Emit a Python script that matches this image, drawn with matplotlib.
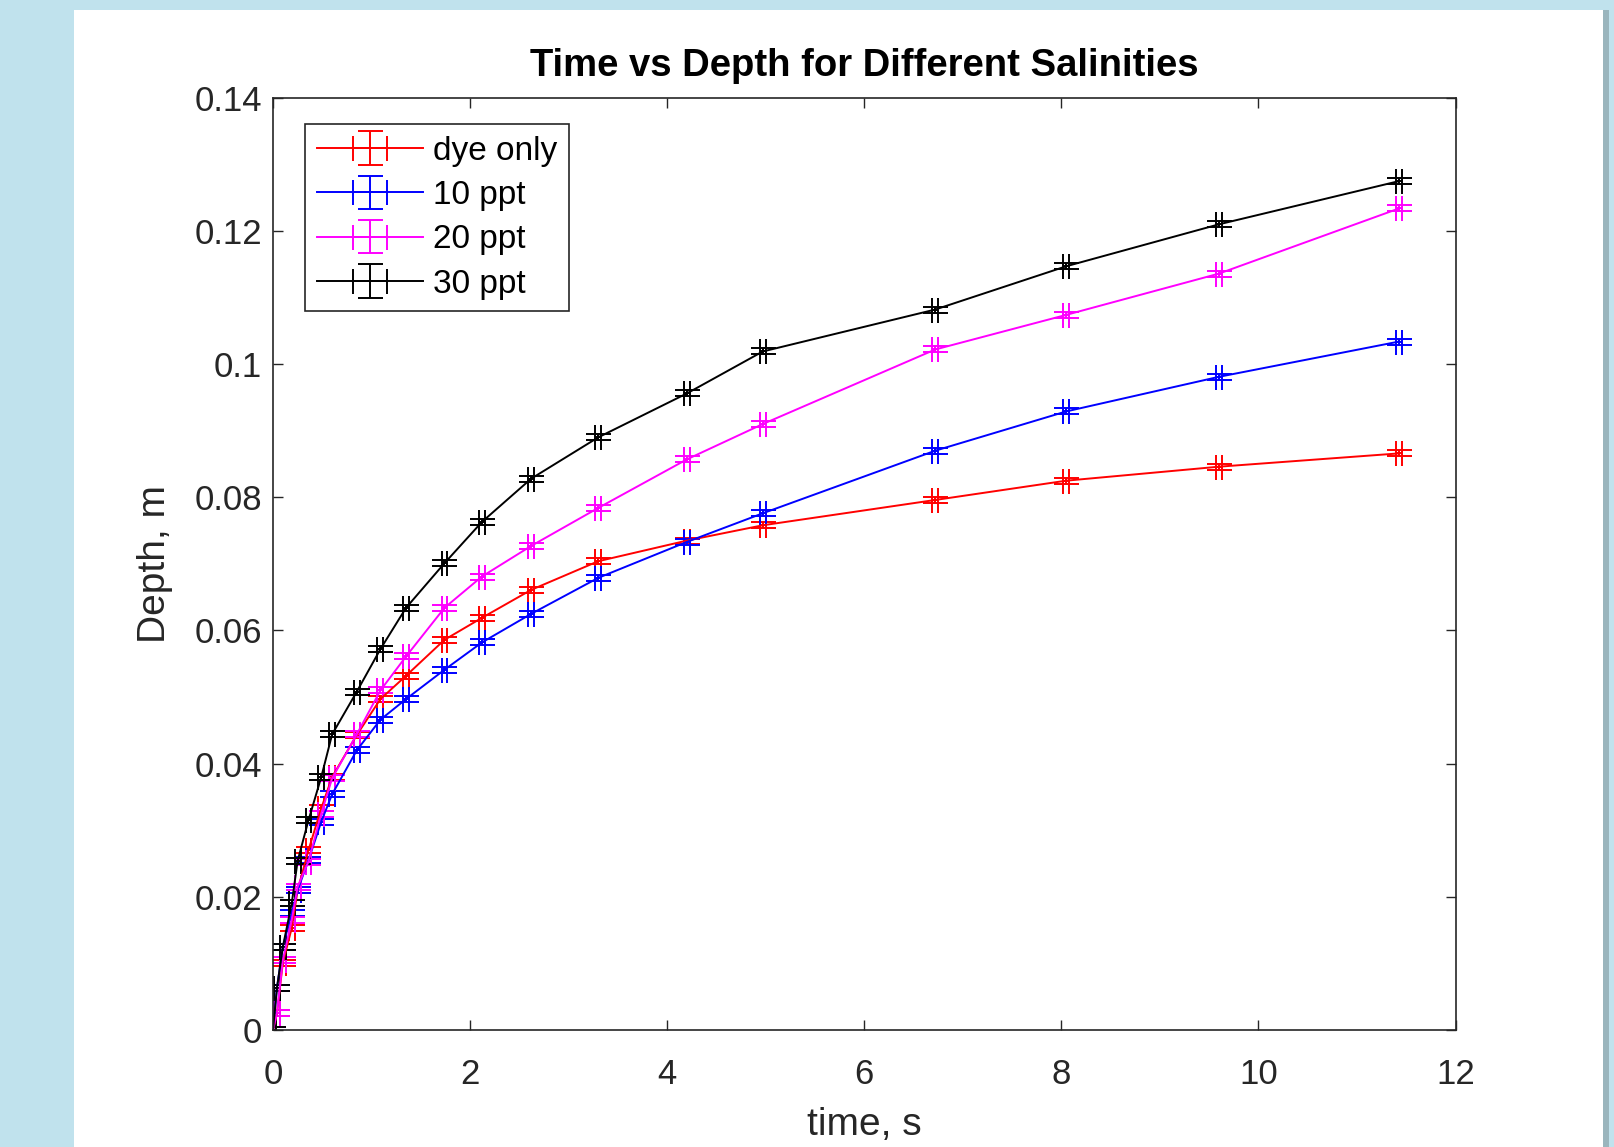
import matplotlib
matplotlib.use("Agg")
import matplotlib.pyplot as plt
from matplotlib.patches import Rectangle
import numpy as np

plt.rcParams['font.family'] = ['Liberation Sans', 'DejaVu Sans']

# ---- data ----
time_s = [0, 0.04, 0.1, 0.19, 0.25, 0.36, 0.49, 0.6, 0.85, 1.09, 1.35, 1.74,
          2.12, 2.62, 3.3, 4.2, 4.97, 6.72, 8.05, 9.6, 11.43]
dye_only = [0, 0.0025, 0.0101, 0.0153, 0.0210, 0.0270, 0.0333, 0.0380, 0.0443,
            0.0497, 0.0532, 0.0586, 0.0619, 0.0661, 0.0704, 0.0735, 0.0758,
            0.0796, 0.0825, 0.0846, 0.0866]
ppt10 = [0, 0.0063, 0.0125, 0.0176, 0.0210, 0.0255, 0.0313, 0.0354, 0.0420,
         0.0466, 0.0497, 0.0541, 0.0582, 0.0625, 0.0679, 0.0733, 0.0776,
         0.0870, 0.0929, 0.0981, 0.1034]
ppt20 = [0, 0.0025, 0.0105, 0.0165, 0.0215, 0.0253, 0.0325, 0.0378, 0.0444,
         0.0510, 0.0561, 0.0634, 0.0681, 0.0727, 0.0784, 0.0857, 0.0910,
         0.1022, 0.1074, 0.1136, 0.1234]
ppt30 = [0, 0.0063, 0.0125, 0.0190, 0.0254, 0.0315, 0.0380, 0.0444, 0.0508,
         0.0572, 0.0634, 0.0701, 0.0763, 0.0828, 0.0890, 0.0956, 0.1019,
         0.1082, 0.1147, 0.1210, 0.1275]
depth_err = 0.00045
time_err = 0.03

series_labels = ['dye only', '10 ppt', '20 ppt', '30 ppt']
series_colors = ['#ff0000', '#0000ff', '#ff00ff', '#000000']
series_values = [dye_only, ppt10, ppt20, ppt30]

xticks = [0, 2, 4, 6, 8, 10, 12]
yticks = [0, 0.02, 0.04, 0.06, 0.08, 0.1, 0.12, 0.14]
yticklabels = ['0', '0.02', '0.04', '0.06', '0.08', '0.1', '0.12', '0.14']

W, H = 1615, 1147
fig = plt.figure(figsize=(W / 100, H / 100), dpi=100, facecolor='#c0e2ed')
fig.patches.append(Rectangle((74 / W, 0), (1603 - 74) / W, (H - 10) / H,
                             transform=fig.transFigure, facecolor='white',
                             edgecolor='none', zorder=-10))
fig.patches.append(Rectangle((1603 / W, 0), 6 / W, (H - 10) / H,
                             transform=fig.transFigure, facecolor='#9ab5bd',
                             edgecolor='none', zorder=-10))

ax = fig.add_axes([273 / W, 1 - 1030 / H, (1455.5 - 273) / W, (1030 - 97.8) / H])
ax.set_facecolor('white')

for lab, col, vals in zip(series_labels, series_colors, series_values):
    ax.errorbar(time_s, vals, yerr=depth_err, xerr=time_err, color=col,
                lw=1.4, elinewidth=1.4, capsize=9, capthick=1.4, label=lab)

ax.set_xlim(0, 12)
ax.set_ylim(0, 0.14)
ax.set_xticks(xticks)
ax.set_xticklabels([str(v) for v in xticks])
ax.set_yticks(yticks)
ax.set_yticklabels(yticklabels)

dark = '#262626'
ax.tick_params(direction='in', top=True, right=True, length=7, width=1.0,
               colors=dark, labelsize=25)
ax.tick_params(axis='x', pad=20)
ax.tick_params(axis='y', pad=8)
for s in ax.spines.values():
    s.set_color(dark)
    s.set_linewidth(1.2)

ax.set_title('Time vs Depth for Different Salinities', fontsize=27.5,
             fontweight='bold', color='black', pad=16)
ax.set_xlabel('time, s', fontsize=28, color=dark, labelpad=12)
ax.set_ylabel('Depth, m', fontsize=28, color=dark, labelpad=15)

leg = ax.legend(loc='upper left', bbox_to_anchor=(0.027, 0.972), fontsize=24,
                frameon=True, fancybox=False, framealpha=1, edgecolor=dark,
                handlelength=3.2, handletextpad=0.3, borderpad=0.35,
                labelspacing=0.4, borderaxespad=0)
leg.get_frame().set_linewidth(1.2)

fig.savefig('out.png', dpi=100, facecolor=fig.get_facecolor())
